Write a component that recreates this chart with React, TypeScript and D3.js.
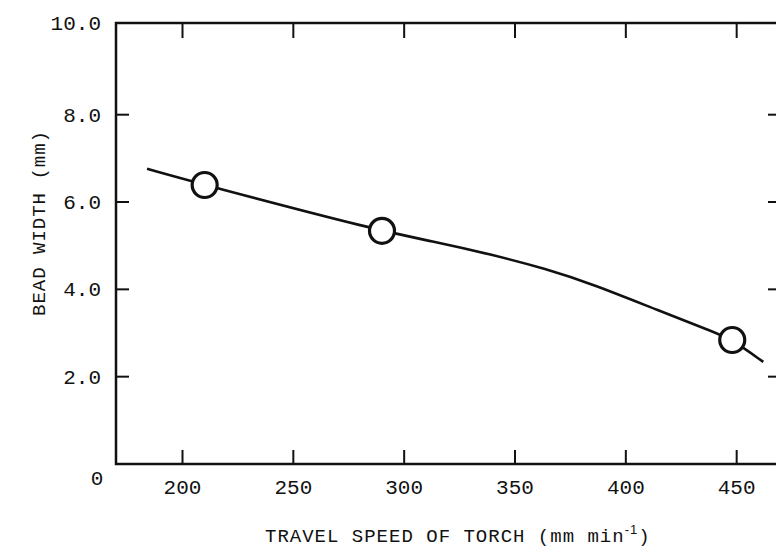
import React from 'react';
import * as d3 from 'd3';

// measured points (travel speed mm/min, bead width mm)
const speeds = [210, 290, 448];
const widths = [6.39, 5.34, 2.84];

// hand-drawn fitted curve
const curveX = [184, 210, 289, 312, 340, 364, 385, 415, 441, 448, 462];
const curveY = [6.76, 6.39, 5.34, 5.11, 4.79, 4.47, 4.12, 3.51, 3.0, 2.84, 2.34];

const xTicks = [200, 250, 300, 350, 400, 450];
const yTicks = [2, 4, 6, 8];
const yTickLabels = ['2.0', '4.0', '6.0', '8.0'];

const W = 776;
const H = 548;
const font = '"Liberation Mono", "DejaVu Sans Mono", monospace';

const App = () => {
  const x = d3.scaleLinear().domain([170, 470]).range([116, 781]);
  const y = d3.scaleLinear().domain([0, 10.1]).range([464, 23]);

  const [x0, x1] = x.range();
  const [y0, y1] = y.range();

  const line = d3.line<number>()
    .x((d, i) => x(curveX[i]))
    .y(d => y(d))
    .curve(d3.curveBasis);

  const ink = '#111';

  return (
    <svg width={W} height={H} style={{ position: 'absolute', left: 0, top: 0, background: '#fff' }}>
      {/* frame */}
      <rect x={x0} y={y1} width={x1 - x0} height={y0 - y1} fill="none" stroke={ink} strokeWidth={2.5} />

      {/* x ticks, bottom and top, pointing inward */}
      {xTicks.map(t => (
        <g key={t}>
          <line x1={x(t)} x2={x(t)} y1={y0} y2={y0 - 14} stroke={ink} strokeWidth={2} />
          <line x1={x(t)} x2={x(t)} y1={y1} y2={y1 + 15} stroke={ink} strokeWidth={2} />
          <text x={x(t)} y={494} textAnchor="middle" fontFamily={font} fontSize={21} fill={ink}>{t}</text>
        </g>
      ))}

      {/* y ticks, left and right */}
      {yTicks.map((t, i) => (
        <g key={t}>
          <line x1={x0} x2={x0 + 13} y1={y(t)} y2={y(t)} stroke={ink} strokeWidth={2} />
          <line x1={x1} x2={x1 - 13} y1={y(t)} y2={y(t)} stroke={ink} strokeWidth={2} />
          <text x={101} y={y(t) + 7} textAnchor="end" fontFamily={font} fontSize={21} fill={ink}>{yTickLabels[i]}</text>
        </g>
      ))}
      <text x={101} y={y1 + 7} textAnchor="end" fontFamily={font} fontSize={21} fill={ink}>10.0</text>
      <text x={97} y={485} textAnchor="middle" fontFamily={font} fontSize={21} fill={ink}>0</text>

      {/* curve */}
      <path d={line(curveY) || ''} fill="none" stroke={ink} strokeWidth={2.6} />

      {/* data points */}
      {speeds.map((s, i) => (
        <circle key={s} cx={x(s)} cy={y(widths[i])} r={12.5} fill="#fff" stroke={ink} strokeWidth={3.2} />
      ))}

      {/* axis titles */}
      <text x={265} y={542} fontFamily={font} fontSize={19} letterSpacing={1} fill={ink}>
        TRAVEL SPEED OF TORCH (mm min<tspan dy={-8} fontSize={13} fontFamily="Liberation Sans, Arial, sans-serif">-1</tspan><tspan dy={8}>)</tspan>
      </text>
      <text transform={`translate(45,223) rotate(-90)`} textAnchor="middle" fontFamily={font} fontSize={19} letterSpacing={1} fill={ink}>
        BEAD WIDTH (mm)
      </text>
    </svg>
  );
};

export default App;
